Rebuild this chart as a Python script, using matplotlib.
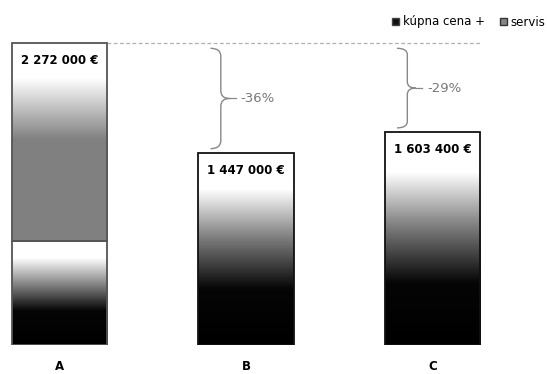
import numpy as np
import matplotlib.pyplot as plt
from matplotlib.patches import Patch, PathPatch
from matplotlib.path import Path

plt.rcParams['font.family'] = ['DejaVu Sans']

# Total cost per variant, split into the lower and upper stacked segment
categories = ['A', 'B', 'C']
lower = [782000, 1447000, 1603400]
upper = [1490000, 0, 0]
totals = [l + u for l, u in zip(lower, upper)]
legend_labels = ['kúpna cena +', 'servis']

width = 0.51
x = np.arange(len(categories))

fig = plt.figure(figsize=(5.47, 3.74), dpi=100)
ax = fig.add_axes([0, 29/374, 1, 345/374])


def gradient(stops, n=600):
    # stops: list of (fraction from top, gray level)
    f = np.linspace(0, 1, n)
    pos, lev = zip(*stops)
    col = np.interp(f, pos, lev)
    return np.repeat(col[:, None], 2, axis=1)


def fill_bar(x0, y0, h, stops, edge):
    img = gradient(stops)
    ax.imshow(img, cmap='gray', vmin=0, vmax=1, aspect='auto',
              extent=(x0 - width/2, x0 + width/2, y0, y0 + h),
              interpolation='nearest', zorder=1)
    ax.bar(x0, h, width, bottom=y0, facecolor='none', edgecolor=edge,
           linewidth=1.3, zorder=2)


dark_stops = [(0, 1), (0.19, 1), (0.44, 0.5), (0.71, 0.02), (1, 0)]
low_a_stops = [(0, 1), (0.16, 1), (0.45, 0.45), (0.67, 0.02), (1, 0)]
top_a_stops = [(0, 1), (0.18, 1), (0.49, 0.5), (1, 0.5)]

for i in range(len(categories)):
    if upper[i] > 0:
        fill_bar(x[i], 0, lower[i], low_a_stops, '#555555')
        fill_bar(x[i], lower[i], upper[i], top_a_stops, '#555555')
    else:
        fill_bar(x[i], 0, lower[i], dark_stops, '#111111')
    ax.text(x[i], totals[i] - 135000, f'{totals[i]:,} €'.replace(',', ' '),
            ha='center', va='center', fontsize=8.5, fontweight='bold', zorder=3)

# reference line at the level of A
ref = totals[0]
ax.plot([x[0] + width/2, 2.265], [ref, ref], ls=(0, (3, 2)), color='#b0b0b0',
        lw=0.9, zorder=0)


def brace(xl, ytop, ybot, w=0.055, tip=0.045):
    ym = (ytop + ybot) / 2
    xs = xl + w
    dy = (ytop - ybot) * 0.08
    verts = [(xl, ytop), (xs, ytop), (xs, ytop - dy),
             (xs, ym + dy), (xs, ym), (xs + tip, ym),
             (xs, ym), (xs, ym - dy),
             (xs, ybot + dy), (xs, ybot), (xl, ybot)]
    codes = [Path.MOVETO, Path.CURVE3, Path.CURVE3,
             Path.LINETO, Path.CURVE3, Path.CURVE3,
             Path.CURVE3, Path.CURVE3,
             Path.LINETO, Path.CURVE3, Path.CURVE3]
    ax.add_patch(PathPatch(Path(verts, codes), fill=False, edgecolor='#888888',
                           lw=1.0, zorder=2))
    return xs + tip, ym


for i in (1, 2):
    pct = round((totals[i] / ref - 1) * 100)
    tx, ty = brace(x[i] - 0.19, ref - 40000, totals[i] + 30000)
    ax.plot([tx, tx + 0.035], [ty, ty], color='#888888', lw=0.9)
    ax.text(tx + 0.06, ty, f'{pct}%', ha='left', va='center',
            fontsize=9.5, color='#777777')

ax.set_xlim(-0.319, 2.614)
ax.set_ylim(0, 345 * 7523)
ax.set_xticks(x)
ax.set_xticklabels(categories, fontsize=8.5, fontweight='bold')
ax.tick_params(axis='x', length=0, pad=11)
ax.set_yticks([])
for s in ax.spines.values():
    s.set_visible(False)

handles = [Patch(facecolor='#111111', edgecolor='#444444'),
           Patch(facecolor='#888888', edgecolor='#333333')]
fig.legend(handles, legend_labels, loc='center left',
           bbox_to_anchor=(392/547, 1 - 22/374), ncol=2, frameon=False,
           fontsize=8.5, handlelength=0.6, handleheight=0.6, handletextpad=0.3,
           columnspacing=1.3, borderaxespad=0, borderpad=0)

fig.savefig('out.png', dpi=100)
